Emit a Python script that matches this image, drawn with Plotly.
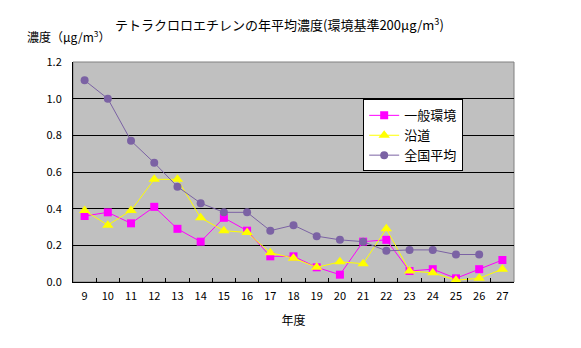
import plotly.graph_objects as go

years = [str(y) for y in range(9, 28)]
general = [0.36, 0.38, 0.32, 0.41, 0.29, 0.22, 0.35, 0.28, 0.14, 0.14, 0.08,
           0.04, 0.22, 0.23, 0.06, 0.07, 0.02, 0.07, 0.12]
roadside = [0.39, 0.31, 0.39, 0.56, 0.56, 0.35, 0.28, 0.27, 0.16, 0.13, 0.08,
            0.11, 0.10, 0.29, 0.06, 0.05, 0.01, 0.02, 0.07]
national = [1.10, 1.00, 0.77, 0.65, 0.52, 0.43, 0.38, 0.38, 0.28, 0.31, 0.25,
            0.23, 0.22, 0.17, 0.175, 0.175, 0.15, 0.15, None]
y_ticks = [0.0, 0.2, 0.4, 0.6, 0.8, 1.0, 1.2]

FONT = "Noto Sans CJK JP"

fig = go.Figure()
fig.add_trace(go.Scatter(x=years, y=general, name="一般環境", mode="lines+markers",
                         line=dict(color="#FF00FF", width=1),
                         marker=dict(symbol="square", size=8, color="#FF00FF")))
fig.add_trace(go.Scatter(x=years, y=roadside, name="沿道", mode="lines+markers",
                         line=dict(color="#FFFF00", width=1),
                         marker=dict(symbol="triangle-up", size=10, color="#FFFF00")))
fig.add_trace(go.Scatter(x=years, y=national, name="全国平均", mode="lines+markers",
                         line=dict(color="#7B62A4", width=1),
                         marker=dict(symbol="circle", size=8, color="#7B62A4")))

fig.update_layout(
    width=581, height=348,
    margin=dict(l=73, r=67, t=62, b=66),
    paper_bgcolor="white", plot_bgcolor="#C0C0C0",
    font=dict(family=FONT, size=11, color="black"),
    showlegend=True,
    legend=dict(x=0.658, y=0.83, xanchor="left", yanchor="top",
                bgcolor="white", bordercolor="black", borderwidth=1,
                font=dict(size=13), tracegroupgap=0, itemwidth=30),
    xaxis=dict(type="category", range=[-0.5, 18.5], autorange=False,
               showgrid=False, ticks="inside", tickson="boundaries",
               ticklen=4, tickcolor="black", showline=True, linecolor="black",
               mirror=False, tickfont=dict(size=11), ticklabelstandoff=4,
               title=dict(text="年度", font=dict(size=12), standoff=14)),
    yaxis=dict(range=[0, 1.2], autorange=False, tickvals=y_ticks,
               ticktext=[f"{v:.1f}" for v in y_ticks],
               showgrid=True, gridcolor="black", gridwidth=1, zeroline=False,
               showline=True, linecolor="black", ticks="", ticklabelstandoff=8,
               tickfont=dict(size=11)),
    shapes=[dict(type="rect", xref="paper", yref="paper", x0=0, x1=1, y0=0, y1=1,
                 line=dict(color="#808080", width=1), layer="below")],
    annotations=[
        dict(text="テトラクロロエチレンの年平均濃度(環境基準200μg/m<sup>3</sup>)",
             xref="paper", yref="paper", x=(113 - 73) / 441, y=1 + (62 - 24) / 220,
             xanchor="left", yanchor="middle", showarrow=False, font=dict(size=13)),
        dict(text="濃度（μg/m<sup>3</sup>）",
             xref="paper", yref="paper", x=(25 - 73) / 441, y=1 + (62 - 36) / 220,
             xanchor="left", yanchor="middle", showarrow=False, font=dict(size=12)),
    ],
)

fig.write_html("out.html")
